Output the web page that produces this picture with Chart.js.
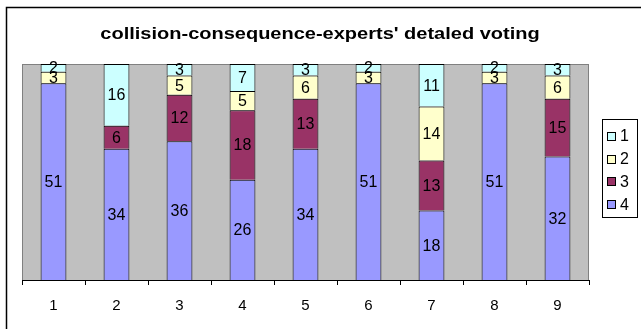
<!DOCTYPE html>
<html>
<head>
<meta charset="utf-8">
<script src="https://cdn.jsdelivr.net/npm/chart.js@4/dist/chart.umd.min.js"></script>
<style>
  html, body { margin: 0; padding: 0; background: #fff; }
  #wrap { width: 641px; height: 329px; position: relative; }
</style>
</head>
<body>
<div id="wrap"><canvas id="chart" width="641" height="329"></canvas></div>
<script>
var chartTitle = "collision-consequence-experts' detaled voting"
var categories = ["1", "2", "3", "4", "5", "6", "7", "8", "9"]
// votes per grade; null where a grade got no votes
var vote4 = [51, 34, 36, 26, 34, 51, 18, 51, 32]
var vote3 = [null, 6, 12, 18, 13, null, 13, null, 15]
var vote2 = [3, null, 5, 5, 6, 3, 14, 3, 6]
var vote1 = [2, 16, 3, 7, 3, 2, 11, 2, 3]
var seriesNames = ["4", "3", "2", "1"]
var seriesColors = ["#9999FF", "#993366", "#FFFFCC", "#CCFFFF"]

var font = "Arial, 'Liberation Sans', sans-serif"

function makeSet(i, values) {
    return {
        label: seriesNames[i],
        data: values,
        backgroundColor: seriesColors[i],
        borderColor: "#000",
        // no bottom edge: the segment below already draws that line
        borderWidth: { top: 1, left: 1, right: 1, bottom: 0 },
        borderSkipped: false,
        barPercentage: 0.41,
        categoryPercentage: 1.0
    }
}

// frame, title, grey plot area and the legend box
var decorations = {
    id: "decorations",
    beforeDraw: function (chart) {
        var ctx = chart.ctx
        var a = chart.chartArea
        ctx.save()
        ctx.strokeStyle = "#000"
        ctx.lineWidth = 1.5
        ctx.strokeRect(6.5, 7.5, 700, 400)
        ctx.fillStyle = "#C0C0C0"
        ctx.fillRect(a.left, a.top, a.right - a.left, a.bottom - a.top)
        ctx.strokeStyle = "#808080"
        ctx.lineWidth = 1
        ctx.strokeRect(a.left + 0.5, a.top + 0.5, a.right - a.left - 1, a.bottom - a.top)

        // title, a little wide like the original sheet font
        ctx.translate(320, 38.5)
        ctx.scale(1.25, 1)
        ctx.font = "bold 16px " + font
        ctx.fillStyle = "#000"
        ctx.textAlign = "center"
        ctx.textBaseline = "alphabetic"
        ctx.fillText(chartTitle, 0, 0)
        ctx.restore()
    },
    afterDraw: function (chart) {
        var ctx = chart.ctx
        var x0 = 602
        var y0 = 119
        ctx.save()
        ctx.strokeStyle = "#000"
        ctx.lineWidth = 1
        ctx.fillStyle = "#fff"
        ctx.fillRect(x0 + 0.5, y0 + 0.5, 35, 98)
        ctx.strokeRect(x0 + 0.5, y0 + 0.5, 35, 98)
        ctx.font = "16px " + font
        ctx.textBaseline = "middle"
        for (var k = 0; k < 4; k++) {
            var idx = 3 - k
            var cy = y0 + 17 + k * 22.7
            ctx.fillStyle = seriesColors[idx]
            ctx.fillRect(x0 + 5.5, Math.round(cy - 4) + 0.5, 8, 8)
            ctx.strokeRect(x0 + 5.5, Math.round(cy - 4) + 0.5, 8, 8)
            ctx.fillStyle = "#000"
            ctx.fillText(seriesNames[idx], x0 + 18, cy + 1)
        }
        ctx.restore()
    }
}

// value written in the middle of each segment
var segmentLabels = {
    id: "segmentLabels",
    afterDatasetsDraw: function (chart) {
        var ctx = chart.ctx
        ctx.save()
        ctx.font = "16px " + font
        ctx.fillStyle = "#000"
        ctx.textAlign = "center"
        ctx.textBaseline = "middle"
        chart.data.datasets.forEach(function (ds, i) {
            chart.getDatasetMeta(i).data.forEach(function (bar, j) {
                var v = ds.data[j]
                if (!v) return
                var p = bar.getProps(["x", "y", "base"], true)
                ctx.fillText(v, p.x, (p.y + p.base) / 2 + 1)
            })
        })
        ctx.restore()
    }
}

new Chart(document.getElementById("chart"), {
    type: "bar",
    data: {
        labels: categories,
        datasets: [makeSet(0, vote4), makeSet(1, vote3), makeSet(2, vote2), makeSet(3, vote1)]
    },
    plugins: [decorations, segmentLabels],
    options: {
        responsive: false,
        animation: false,
        events: [],
        layout: { padding: { left: 22, right: 52, top: 64, bottom: 2 } },
        plugins: {
            legend: { display: false },
            tooltip: { enabled: false },
            title: { display: false }
        },
        scales: {
            x: {
                stacked: true,
                grid: {
                    offset: true,
                    drawOnChartArea: false,
                    drawTicks: true,
                    tickLength: 5,
                    color: "#000"
                },
                border: { display: true, color: "#000", width: 1 },
                ticks: {
                    color: "#000",
                    font: { family: font, size: 15 },
                    padding: 12,
                    maxRotation: 0
                }
            },
            y: {
                stacked: true,
                display: false,
                min: 0,
                max: 56
            }
        }
    }
})
</script>
</body>
</html>
